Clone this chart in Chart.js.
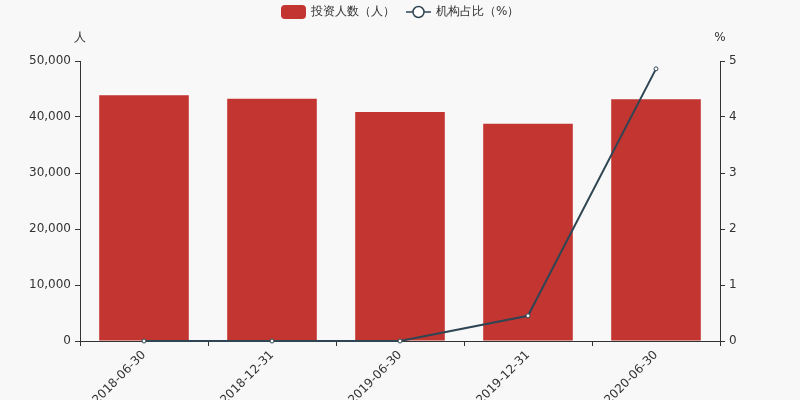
<!DOCTYPE html>
<html>
<head>
<meta charset="utf-8">
<script src="https://cdn.jsdelivr.net/npm/chart.js@4/dist/chart.umd.min.js"></script>
<style>
  html, body { margin: 0; padding: 0; background: #f8f8f8; }
  #wrap { width: 800px; height: 400px; }
</style>
</head>
<body>
<div id="wrap"><canvas id="chart" width="800" height="400"></canvas></div>
<script>
// data
const dates = ['2018-06-30', '2018-12-31', '2019-06-30', '2019-12-31', '2020-06-30'];
const investors = [43870, 43270, 40890, 38800, 43150];
const instShare = [0, 0, 0, 0.45, 4.86];
const barName = '投资人数（人）';
const lineName = '机构占比（%）';

const FONT = 'DejaVu Sans, sans-serif';
const TEXT = '#333';
const RED = '#c23531';
const NAVY = '#2f4554';

// legend + axis unit labels drawn on the canvas
const extras = {
  id: 'extras',
  afterDraw(chart) {
    const c = chart.ctx;
    c.save();
    c.font = '12px ' + FONT;
    c.fillStyle = TEXT;
    c.textBaseline = 'middle';

    // bar legend item
    c.fillStyle = RED;
    c.beginPath();
    c.roundRect(281, 5, 25, 14, 4);
    c.fill();
    c.fillStyle = TEXT;
    c.fillText(barName, 311, 12);

    // line legend item
    c.strokeStyle = NAVY;
    c.lineWidth = 1.5;
    c.beginPath();
    c.moveTo(406, 12);
    c.lineTo(431, 12);
    c.stroke();
    c.fillStyle = '#fff';
    c.beginPath();
    c.arc(418.5, 12, 5.5, 0, Math.PI * 2);
    c.fill();
    c.stroke();
    c.fillStyle = TEXT;
    c.fillText(lineName, 436, 12);

    // unit labels
    c.textAlign = 'center';
    c.fillText('人', 80, 38);
    c.fillText('%', 720, 38);
    c.restore();
  }
};

const ctx = document.getElementById('chart').getContext('2d');
new Chart(ctx, {
  type: 'bar',
  data: {
    labels: dates,
    datasets: [
      {
        type: 'line',
        label: lineName,
        data: instShare,
        yAxisID: 'y1',
        borderColor: NAVY,
        borderWidth: 2,
        pointRadius: 2,
        pointBorderWidth: 1,
        pointBackgroundColor: '#fff',
        pointBorderColor: NAVY,
        tension: 0,
        clip: false,
        order: 0,
      },
      {
        label: barName,
        data: investors,
        yAxisID: 'y',
        backgroundColor: RED,
        barPercentage: 0.7,
        categoryPercentage: 1,
        order: 1,
      },
    ],
  },
  options: {
    responsive: false,
    animation: false,
    layout: { padding: { top: 61, left: 0, right: 0, bottom: 0 } },
    plugins: {
      legend: { display: false },
      tooltip: { enabled: false },
    },
    scales: {
      x: {
        offset: true,
        grid: { display: true, drawOnChartArea: false, drawTicks: true, tickLength: 5, color: TEXT, offset: true },
        border: { display: true, color: TEXT },
        ticks: { color: TEXT, font: { family: FONT, size: 12 }, maxRotation: 45, minRotation: 45, autoSkip: false, padding: 2 },
        afterFit(scale) { scale.height = 59; },
      },
      y: {
        position: 'left',
        min: 0,
        max: 50000,
        grid: { display: true, drawOnChartArea: false, drawTicks: true, tickLength: 5, color: TEXT },
        border: { display: true, color: TEXT },
        ticks: {
          stepSize: 10000,
          color: TEXT,
          font: { family: FONT, size: 12 },
          padding: 4,
          callback: (v) => v.toLocaleString('en-US'),
        },
        afterFit(scale) { scale.width = 80; },
      },
      y1: {
        position: 'right',
        min: 0,
        max: 5,
        grid: { display: true, drawOnChartArea: false, drawTicks: true, tickLength: 5, color: TEXT },
        border: { display: true, color: TEXT },
        ticks: { stepSize: 1, color: TEXT, font: { family: FONT, size: 12 }, padding: 4 },
        afterFit(scale) { scale.width = 80; },
      },
    },
  },
  plugins: [extras],
});
</script>
</body>
</html>
